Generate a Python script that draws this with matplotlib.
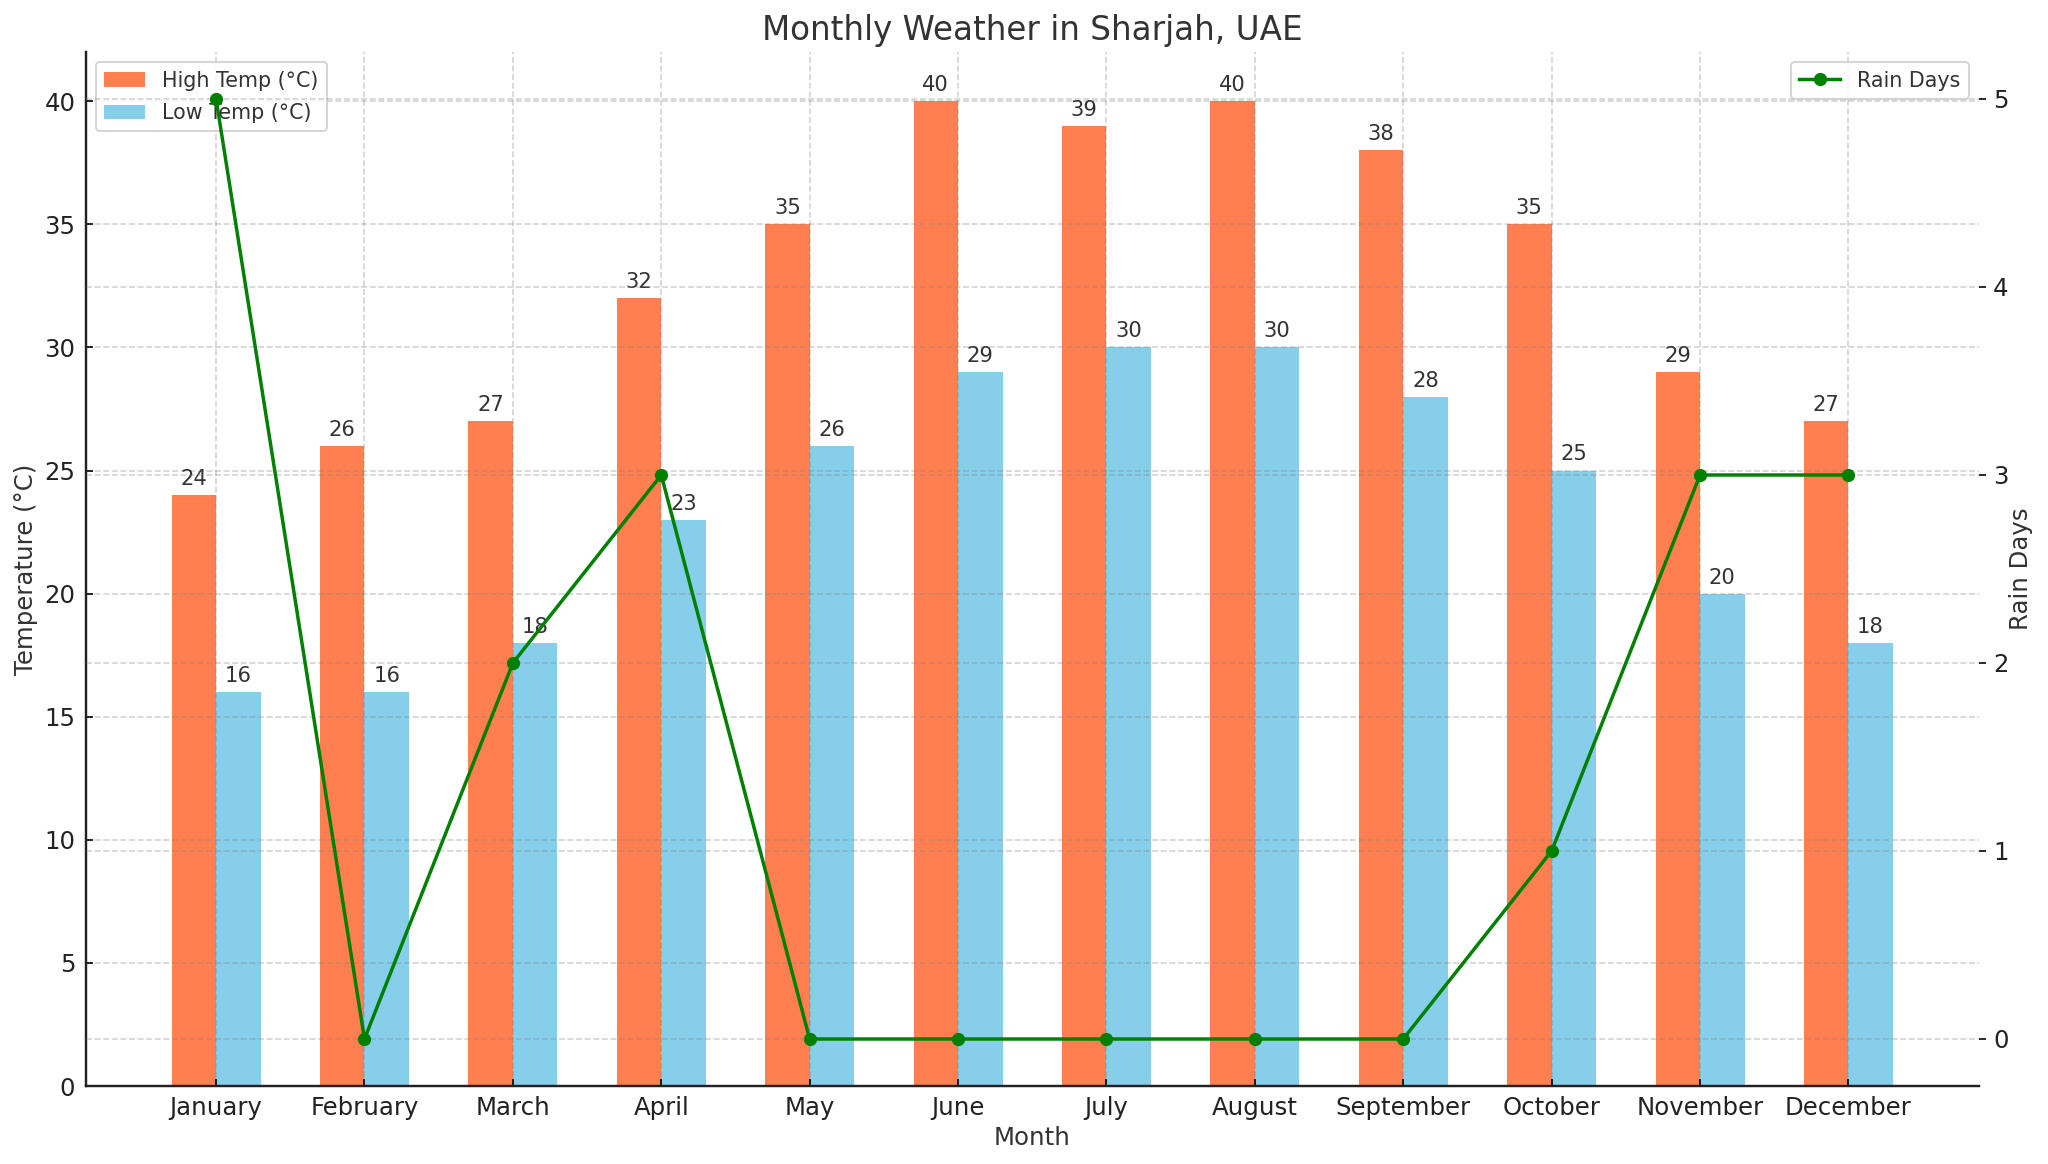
import numpy as np
import matplotlib
matplotlib.use('Agg')
import matplotlib.pyplot as plt

months = ['January', 'February', 'March', 'April', 'May', 'June', 'July',
          'August', 'September', 'October', 'November', 'December']
high_temp = [24, 26, 27, 32, 35, 40, 39, 40, 38, 35, 29, 27]
low_temp = [16, 16, 18, 23, 26, 29, 30, 30, 28, 25, 20, 18]
rain_days = [5, 0, 2, 3, 0, 0, 0, 0, 0, 1, 3, 3]

W, H = 2048, 1164
dpi = 146
text_col = '#333333'

fig = plt.figure(figsize=(W / dpi, H / dpi), dpi=dpi)
ax = fig.add_axes([85.5 / W, 1 - 1086 / H, (1979 - 85.5) / W, (1086 - 52) / H])

x = np.arange(len(months))
width = 0.3

bars1 = ax.bar(x - width / 2, high_temp, width, color='coral', label='High Temp (°C)')
bars2 = ax.bar(x + width / 2, low_temp, width, color='skyblue', label='Low Temp (°C)')

ax.bar_label(bars1, padding=3, fontsize=10.4, color=text_col)
ax.bar_label(bars2, padding=3, fontsize=10.4, color=text_col)

ax.set_xticks(x)
ax.set_xticklabels(months)
ax.set_xlabel('Month', fontsize=12, color=text_col, labelpad=3)
ax.set_ylabel('Temperature (°C)', fontsize=12, color=text_col, labelpad=3)
ax.set_title('Monthly Weather in Sharjah, UAE', fontsize=16.1, color=text_col, pad=6)
ax.tick_params(axis='both', direction='in', labelsize=12, labelcolor='#222222', pad=5)
ax.grid(True, linestyle='--', color='gray', alpha=0.35, linewidth=0.8)
ax.set_axisbelow(False)
ax.spines['top'].set_visible(False)
ax.spines['right'].set_visible(False)
for s in ['left', 'bottom']:
    ax.spines[s].set_linewidth(1.2)
    ax.spines[s].set_color('#222222')
    ax.spines[s].set_zorder(5)
ax.legend(loc='upper left', fontsize=10.2, labelcolor=text_col, labelspacing=0.6)

ax2 = ax.twinx()
ax2.plot(x, rain_days, color='green', marker='o', markersize=5.5, linewidth=1.7, label='Rain Days')
ax2.set_ylabel('Rain Days', fontsize=12, color=text_col, labelpad=0)
ax2.tick_params(axis='y', labelsize=12, labelcolor='#222222', direction='out')
ax2.grid(True, axis='y', linestyle='--', color='gray', alpha=0.35, linewidth=0.8)
for s in ['top', 'left', 'bottom', 'right']:
    ax2.spines[s].set_visible(False)
ax2.legend(loc='upper right', fontsize=10.2, labelcolor=text_col)

fig.savefig('out.png', dpi=dpi)
